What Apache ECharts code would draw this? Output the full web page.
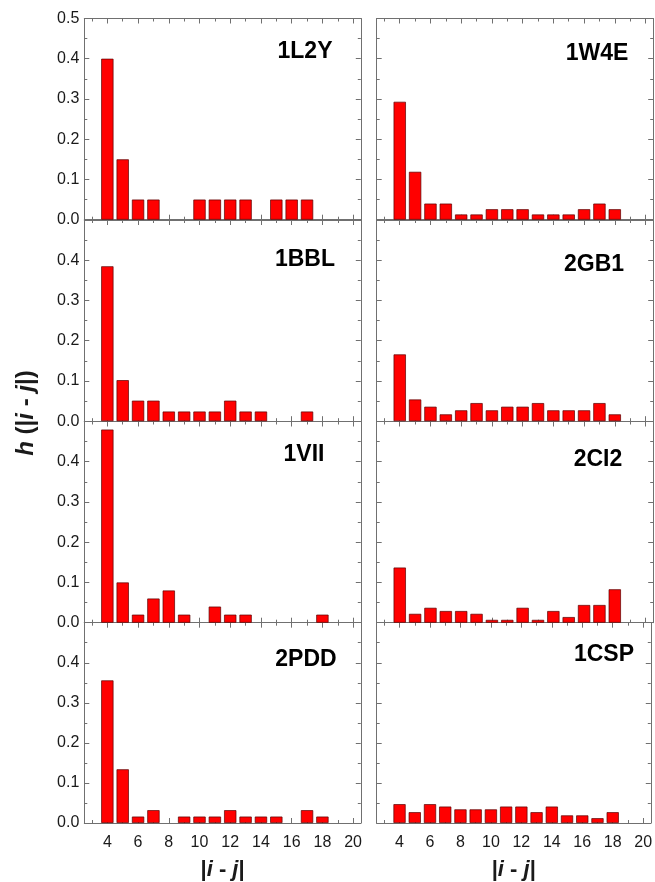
<!DOCTYPE html>
<html>
<head>
<meta charset="utf-8">
<script src="https://cdn.jsdelivr.net/npm/echarts@6/dist/echarts.min.js"></script>
<style>
html,body{margin:0;padding:0;background:#fff;}
#chart{width:655px;height:882px;}
</style>
</head>
<body>
<div id="chart"></div>
<script>
// x categories |i - j|
const xCategories = [3,4,5,6,7,8,9,10,11,12,13,14,15,16,17,18,19,20];
// measured distances (4..18)
const distances = [4,5,6,7,8,9,10,11,12,13,14,15,16,17,18];
const xTickLabels = [4,6,8,10,12,14,16,18,20];
const yTickLabels = [0.0,0.1,0.2,0.3,0.4,0.5];

const proteins = ['1L2Y','1W4E','1BBL','2GB1','1VII','2CI2','2PDD','1CSP'];

const h_1L2Y = [0.40,0.15,0.05,0.05,0,0,0.05,0.05,0.05,0.05,0,0.05,0.05,0.05,0];
const h_1W4E = [0.293,0.119,0.040,0.040,0.013,0.013,0.026,0.026,0.026,0.013,0.013,0.013,0.026,0.040,0.026];
const h_1BBL = [0.385,0.102,0.051,0.051,0.024,0.024,0.024,0.024,0.051,0.024,0.024,0,0,0.024,0];
const h_2GB1 = [0.166,0.054,0.036,0.017,0.027,0.045,0.027,0.036,0.036,0.045,0.027,0.027,0.027,0.045,0.017];
const h_1VII = [0.48,0.10,0.02,0.06,0.08,0.02,0,0.04,0.02,0.02,0,0,0,0,0.02];
const h_2CI2 = [0.137,0.022,0.037,0.029,0.029,0.022,0.007,0.007,0.037,0.007,0.029,0.014,0.044,0.044,0.083];
const h_2PDD = [0.356,0.134,0.016,0.032,0,0.016,0.016,0.016,0.032,0.016,0.016,0.016,0,0.032,0.016];
const h_1CSP = [0.047,0.027,0.047,0.041,0.034,0.034,0.034,0.041,0.041,0.027,0.041,0.019,0.019,0.012,0.027];

const values = [h_1L2Y,h_1W4E,h_1BBL,h_2GB1,h_1VII,h_2CI2,h_2PDD,h_1CSP];

// layout
const colLeft = [84.3, 376.7];
const panelW = 276.5;
const rowTop = [18.5, 220, 421.5, 622.7];
const panelH = 201.2;
const labelPos = [[305,52],[597,54],[305,260],[594,265],[304,455],[598,460],[306,660],[604,655]];

const axisColor = '#707070';
const textColor = '#1a1a1a';
const font = 'Liberation Sans, Arial, sans-serif';

const grids = [], xAxes = [], yAxes = [], series = [], graphics = [];

proteins.forEach((name, k) => {
  const col = k % 2, row = Math.floor(k / 2);
  grids.push({left: colLeft[col], top: rowTop[row], width: panelW, height: panelH, containLabel: false});
  const isBottom = row === 3;
  const catStr = xCategories.map(String);
  const isMajor = (i) => xCategories[i] % 2 === 0;
  const isMinor = (i) => xCategories[i] % 2 === 1;
  const xBase = {
    type: 'category', gridIndex: k, data: catStr, boundaryGap: true,
    axisLine: {show: true, lineStyle: {color: axisColor, width: 1}},
    splitLine: {show: false}
  };
  // bottom major
  xAxes.push(Object.assign({}, xBase, {
    position: 'bottom',
    axisTick: {show: true, inside: true, alignWithLabel: true, length: 5, interval: (i) => isMajor(i), lineStyle: {color: axisColor}},
    axisLabel: {show: isBottom, interval: (i) => isMajor(i), margin: 12, fontSize: 16, color: textColor, fontFamily: font},
    name: isBottom ? '|{i|i} - {i|j}|' : '',
    nameLocation: 'middle', nameGap: 36,
    nameTextStyle: {fontSize: 22, fontWeight: 'bold', color: textColor, fontFamily: font,
      rich: {i: {fontSize: 22, fontWeight: 'bold', fontStyle: 'italic', color: textColor, fontFamily: font}}}
  }));
  const xMajorIndex = xAxes.length - 1;
  // bottom minor
  xAxes.push(Object.assign({}, xBase, {
    position: 'bottom', axisLine: {show: false},
    axisTick: {show: true, inside: true, alignWithLabel: true, length: 3, interval: (i) => isMinor(i), lineStyle: {color: axisColor}},
    axisLabel: {show: false}
  }));
  // top major
  xAxes.push(Object.assign({}, xBase, {
    position: 'top',
    axisTick: {show: true, inside: true, alignWithLabel: true, length: 5, interval: (i) => isMajor(i), lineStyle: {color: axisColor}},
    axisLabel: {show: false}
  }));
  // top minor
  xAxes.push(Object.assign({}, xBase, {
    position: 'top', axisLine: {show: false},
    axisTick: {show: true, inside: true, alignWithLabel: true, length: 3, interval: (i) => isMinor(i), lineStyle: {color: axisColor}},
    axisLabel: {show: false}
  }));

  const yBase = {
    type: 'value', gridIndex: k, min: 0, max: 0.5, interval: 0.1,
    axisLine: {show: true, lineStyle: {color: axisColor, width: 1}},
    axisTick: {show: true, inside: true, length: 5, lineStyle: {color: axisColor}},
    minorTick: {show: true, splitNumber: 2, length: 3, lineStyle: {color: axisColor}},
    splitLine: {show: false}, minorSplitLine: {show: false}
  };
  yAxes.push(Object.assign({}, yBase, {
    position: 'left',
    axisLabel: {show: col === 0, margin: 5, fontSize: 16, color: textColor, fontFamily: font,
      formatter: (v) => (row > 0 && v > 0.45) ? '' : v.toFixed(1)}
  }));
  const yMainIndex = yAxes.length - 1;
  yAxes.push(Object.assign({}, yBase, {position: 'right', axisLabel: {show: false}}));

  const vals = values[k];
  const data = xCategories.map((c) => {
    const idx = distances.indexOf(c);
    if (idx < 0) return '-';
    const v = vals[idx];
    return v > 0 ? v : '-';
  });
  series.push({
    type: 'bar', xAxisIndex: xMajorIndex, yAxisIndex: yMainIndex,
    data: data, barWidth: '80%',
    itemStyle: {color: '#ff0000', borderColor: '#5a0000', borderWidth: 0.7},
    silent: true, animation: false
  });

  graphics.push({
    type: 'text', x: labelPos[k][0], y: labelPos[k][1],
    style: {text: name, fill: '#000', font: 'bold 23px ' + font, textAlign: 'center', textVerticalAlign: 'middle'}
  });
});

graphics.push({
  type: 'text', x: 26, y: 413, rotation: Math.PI / 2,
  style: {
    text: '{i|h} (|{i|i} - {i|j}|)',
    fill: textColor, font: 'bold 24px ' + font,
    textAlign: 'center', textVerticalAlign: 'middle',
    rich: {i: {fontStyle: 'italic', fontWeight: 'bold', fontSize: 24, fontFamily: font, fill: textColor}}
  }
});

const chart = echarts.init(document.getElementById('chart'), null, {renderer: 'canvas'});
chart.setOption({
  backgroundColor: '#ffffff',
  animation: false,
  grid: grids,
  xAxis: xAxes,
  yAxis: yAxes,
  series: series,
  graphic: graphics
});
</script>
</body>
</html>
